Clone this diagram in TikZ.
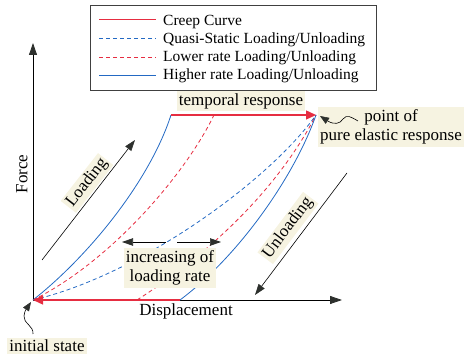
\documentclass[tikz,border=0pt]{standalone}
\usepackage{fontspec}
\setmainfont{Liberation Serif}
\newfontfamily\tnr{Liberation Serif}
\usetikzlibrary{arrows.meta}
\definecolor{cred}{RGB}{230,45,65}
\definecolor{cblue}{RGB}{35,105,195}
\definecolor{beige}{RGB}{246,243,225}
\definecolor{dk}{RGB}{45,48,45}
\begin{document}
\begin{tikzpicture}[x=1pt,y=-1pt,
  lbl/.style={fill=beige, inner sep=2pt, font=\tnr\fontsize{17}{19.5}\selectfont},
  plain/.style={inner sep=1pt, font=\tnr\fontsize{17}{19.5}\selectfont},
  leg/.style={anchor=base west, inner sep=0pt, font=\tnr\fontsize{15.5}{18}\selectfont},
  curve/.style={line width=0.8pt},
  dsh/.style={dash pattern=on 4pt off 3pt},
  axtip/.style={-{Triangle[length=12pt,width=8pt,color=dk]}},
  smtip/.style={-{Triangle[length=11pt,width=7.5pt,color=dk]}},
  redtip/.style={-{Triangle[length=10pt,width=9pt]}},
  creep/.style={cred, line width=1.4pt},
]
\useasboundingbox (0,0) rectangle (467,358);

% legend
\node[draw=black!75, line width=0.8pt, minimum width=286pt, minimum height=85pt, inner sep=0pt] (legend) at (233,47.5) {};
\draw[cred, line width=1pt] (99,19.3) -- (156,19.3);
\draw[cblue, line width=1pt, dsh] (99,38.3) -- (156,38.3);
\draw[cred, line width=1pt, dsh] (99,57.3) -- (156,57.3);
\draw[cblue, line width=1pt] (99,76) -- (156,76);
\node[leg] (leg1) at (163,26) {Creep Curve};
\node[leg] (leg2) at (163,43.5) {Quasi-Static Loading/Unloading};
\node[leg] (leg3) at (163,61.7) {Lower rate Loading/Unloading};
\node[leg] (leg4) at (163,80) {Higher rate Loading/Unloading};

% key points
\coordinate (O) at (33,300);
\coordinate (ytop) at (33,43);
\coordinate (xend) at (342,300);
\coordinate (P) at (316,115);
\coordinate (A) at (171,115);
\coordinate (B) at (214,115);
\coordinate (C) at (137,300);
\coordinate (D) at (180,300);

% axes
\draw[black, line width=0.8pt, axtip] (O) -- (ytop);
\draw[black, line width=0.8pt, axtip] (O) -- (xend);

% curves
\draw[cblue, curve] (O) .. controls (90,255) and (150,180) .. (A);
\draw[cred, curve, dsh] (O) .. controls (110,262) and (185,175) .. (B);
\draw[cblue, curve, dsh] (O) .. controls (140,275) and (270,180) .. (P);
\draw[cred, curve, dsh] (C) .. controls (215,250) and (280,185) .. (P);
\draw[cblue, curve] (D) .. controls (240,255) and (295,175) .. (P);

% creep lines
\draw[creep, redtip] (A) -- (P);
\draw[creep, redtip] (D) -- (O);

% loading / unloading arrows
\coordinate (L1) at (42,260);
\coordinate (L2) at (135,140);
\draw[black, line width=0.6pt, smtip] (L1) -- (L2);
\coordinate (U1) at (347,173);
\coordinate (U2) at (255,295);
\draw[black, line width=0.6pt, smtip] (U1) -- (U2);

% increasing arrows
\coordinate (Ia) at (166,242);
\coordinate (I1) at (122,242);
\coordinate (Ib) at (177,242);
\coordinate (I2) at (221,242);
\draw[black, line width=0.7pt, smtip] (Ia) -- (I1);
\draw[black, line width=0.7pt, smtip] (Ib) -- (I2);

% labels
\node[lbl] (temporal) at (241,101) {temporal response};
\node[lbl, align=center] (pointof) at (391,127) {point of\\pure elastic response};
\node[lbl, rotate=52] (loadlbl) at (87,183) {Loading};
\node[lbl, rotate=53] (unloadlbl) at (288,228) {Unloading};
\node[lbl, align=center] (inclbl) at (170,268) {increasing of\\loading rate};
\node[plain] (xlbl) at (186,311) {Displacement};
\node[plain, rotate=90] (ylbl) at (22,174) {Force};
\node[lbl] (init) at (47,346) {initial state};

% squiggle annotations
\coordinate (s1) at (358,121);
\coordinate (s1e) at (320,116);
\draw[black, line width=0.6pt, -{Triangle[length=9pt,width=7pt,color=dk]}]
  (s1) .. controls (351,117) and (347,114) .. (343,119)
  .. controls (340,124) and (334,125) .. (s1e);
\coordinate (s2) at (33,334);
\coordinate (s2e) at (31,302);
\draw[black, line width=0.6pt, -{Triangle[length=9pt,width=7pt,color=dk]}]
  (s2) .. controls (34,326) and (23,323) .. (24,316)
  .. controls (25,311) .. (s2e);
\end{tikzpicture}
\end{document}
